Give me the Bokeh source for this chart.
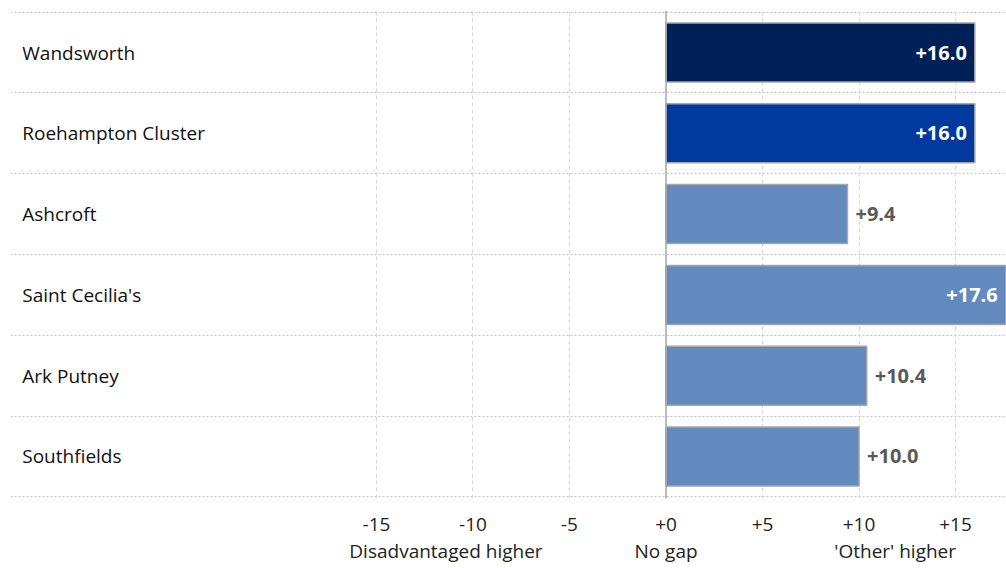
from bokeh.plotting import figure
from bokeh.models import ColumnDataSource, Range1d, FixedTicker, LinearAxis, Span
from bokeh.core.properties import value
from bokeh.embed import file_html
from bokeh.resources import INLINE

# ---- data ----
schools = ["Wandsworth", "Roehampton Cluster", "Ashcroft", "Saint Cecilia's", "Ark Putney", "Southfields"]
gaps = [16.0, 16.0, 9.4, 17.6, 10.4, 10.0]
bar_colors = ["#002157", "#003A9E", "#638ABE", "#638ABE", "#638ABE", "#638ABE"]
tick_values = [-15, -10, -5, 0, 5, 10, 15]
tick_labels = ["-15", "-10", "-5", "+0", "+5", "+10", "+15"]
side_positions = [-11.4, 0, 12.0]
side_labels = ["Disadvantaged higher", "No gap", "'Other'  higher"]

FONT = "Open Sans"
n = len(schools)
ypos = [n - 0.5 - i for i in range(n)]
labels = ["%+.1f" % g for g in gaps]

src = ColumnDataSource(dict(y=ypos, name=schools, gap=gaps, color=bar_colors, label=labels,
                            lab_x=[-33.35] * n))
inside = [i for i, g in enumerate(gaps) if g > 15]
outside = [i for i, g in enumerate(gaps) if g <= 15]
src_in = ColumnDataSource(dict(y=[ypos[i] for i in inside], gap=[gaps[i] for i in inside],
                               label=[labels[i] for i in inside]))
src_out = ColumnDataSource(dict(y=[ypos[i] for i in outside], gap=[gaps[i] for i in outside],
                                label=[labels[i] for i in outside]))

p = figure(width=1006, height=568, output_backend="svg", toolbar_location=None,
           x_range=Range1d(-33.96, 17.64), y_range=Range1d(-0.02, n + 0.02),
           min_border_left=10, min_border_right=0, min_border_top=10, min_border_bottom=70)
p.outline_line_color = None
p.background_fill_color = "white"
p.border_fill_color = "white"

p.yaxis.visible = False
p.ygrid.ticker = FixedTicker(ticks=list(range(n + 1)))
p.ygrid.grid_line_color = "#c4c4c4"
p.ygrid.grid_line_dash = "2 2"
p.ygrid.grid_line_width = 1

p.xgrid.ticker = FixedTicker(ticks=[t for t in tick_values if t != 0])
p.xgrid.grid_line_color = "#d6d6d6"
p.xgrid.grid_line_dash = "4 3"
p.xgrid.grid_line_width = 1

ax = p.xaxis[0]
ax.ticker = FixedTicker(ticks=tick_values)
ax.major_label_overrides = {t: l for t, l in zip(tick_values, tick_labels)}
ax.axis_line_color = None
ax.major_tick_line_color = None
ax.minor_tick_line_color = None
ax.major_tick_out = 0
ax.major_label_standoff = 19
ax.major_label_text_font = FONT
ax.major_label_text_font_size = "19px"
ax.major_label_text_color = "#222222"

ax2 = LinearAxis(ticker=FixedTicker(ticks=side_positions),
                 major_label_overrides={t: l for t, l in zip(side_positions, side_labels)})
ax2.axis_line_color = None
ax2.major_tick_line_color = None
ax2.minor_tick_line_color = None
ax2.major_tick_out = 0
ax2.major_label_standoff = 4
ax2.major_label_text_font = FONT
ax2.major_label_text_font_size = "19px"
ax2.major_label_text_color = "#222222"
p.add_layout(ax2, "below")

p.add_layout(Span(location=0, dimension="height", line_color="#a6a6a6", line_width=1.5))

p.hbar(y="y", left=0, right="gap", height=0.73, fill_color="color", line_color="#a6a6a6",
       line_width=1.5, source=src)

p.text(x="lab_x", y="y", text="name", source=src, text_font=value(FONT), text_font_size="19px",
       text_color="#111111", text_align="left", text_baseline="middle")

p.text(x="gap", y="y", text="label", source=src_in, x_offset=-8, text_font=value(FONT),
       text_font_size="20px", text_font_style="bold", text_color="white",
       text_align="right", text_baseline="middle")
p.text(x="gap", y="y", text="label", source=src_out, x_offset=8, text_font=value(FONT),
       text_font_size="20px", text_font_style="bold", text_color="#595959",
       text_align="left", text_baseline="middle")

open("out.html", "w").write(file_html(p, INLINE))
